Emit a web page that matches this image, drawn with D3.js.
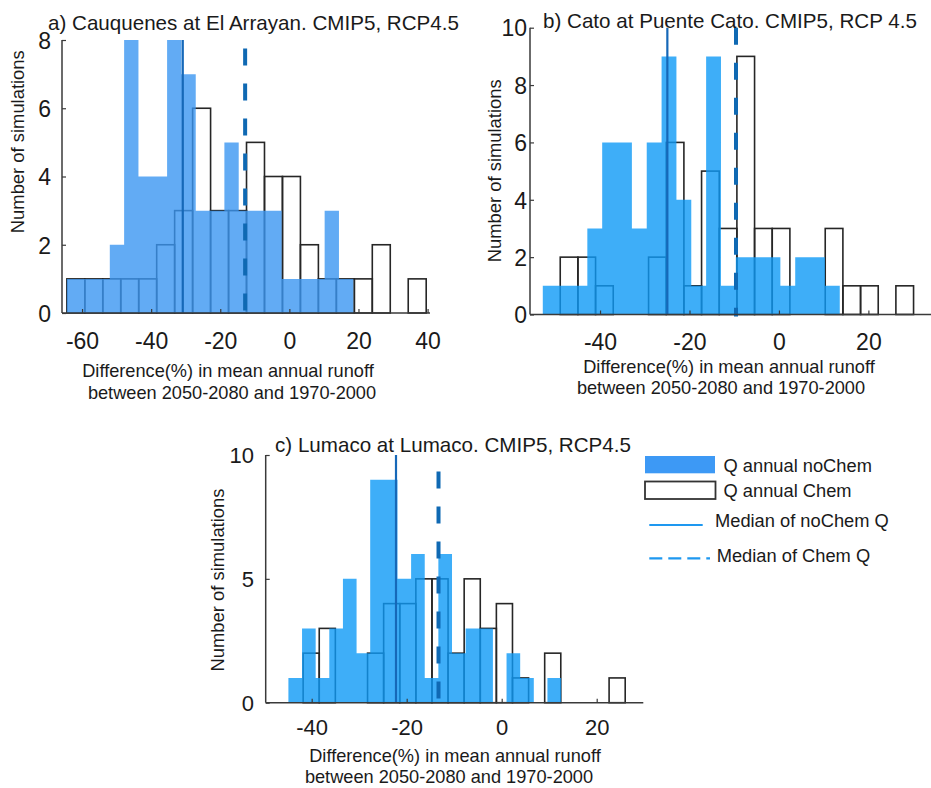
<!DOCTYPE html>
<html><head><meta charset="utf-8">
<script src="https://cdn.jsdelivr.net/npm/d3@7"></script>
<style>
body{margin:0;background:#fff}
svg{display:block}
text{font-family:"Liberation Sans",Arial,Helvetica,sans-serif;fill:#1a1a1a}
</style>
</head><body>
<svg id="chart" width="931" height="788"></svg>
<script>
// ---------------- DATA ----------------
const titles = [
  "a) Cauquenes at El Arrayan. CMIP5, RCP4.5",
  "b) Cato at Puente Cato. CMIP5, RCP 4.5",
  "c) Lumaco at Lumaco. CMIP5, RCP4.5"
];
const xLabelLines = ["Difference(%) in mean annual runoff", "between 2050-2080 and 1970-2000"];
const yLabel = "Number of simulations";
const legendLabels = ["Q annual noChem", "Q annual Chem", "Median of noChem Q", "Median of Chem Q"];

// tick labels
const xTicksA = [-60, -40, -20, 0, 20, 40];
const xTicksB = [-40, -20, 0, 20];
const xTicksC = [-40, -20, 0, 20];
const yTicksA = [0, 2, 4, 6, 8];
const yTicksB = [0, 2, 4, 6, 8, 10];
const yTicksC = [0, 5, 10];

// axis ranges (difference %, number of simulations)
const xDomainA = [-65.8, 40.7];
const xDomainB = [-55.66, 34.0];
const xDomainC = [-49.68, 29.81];
const yMaxA = 8, yMaxB = 10, yMaxC = 10;

// histogram bins: [first edge, bin width]
const chemBinA = [-64.4, 5.2];
const noChemBinA = [-64.4, 4.145];
const chemBinB = [-48.9, 3.95];
const noChemBinB = [-52.8, 3.32];
const chemBinC = [-41.8, 3.39];
const noChemBinC = [-44.9, 2.87];

// counts per bin (Q annual Chem, 43 simulations; Q annual noChem, 63 simulations)
const chemCountsA   = [1,1,1,1,1,2,3,6,3,3,5,4,4,2,1,1,1,2,0,1];
const noChemCountsA = [1,1,1,2,8,4,4,8,7,3,3,5,3,3,3,1,1,1,3,1];
const chemCountsB   = [2,2,1,0,0,2,6,1,5,3,9,3,3,0,0,3,1,1,0,1];
const noChemCountsB = [1,1,1,3,6,6,3,6,9,4,1,9,1,2,2,2,1,2,2,1];
const chemCountsC   = [2,3,0,0,2,4,4,5,5,2,5,3,4,1,0,2,0,0,0,1];
const noChemCountsC = [1,3,1,3,5,2,9,9,5,6,1,6,2,3,3,0,2,1,0,1];

// medians [noChem, Chem] and the top of the drawn Chem median line
const mediansA = [-30.85, -12.8];
const mediansB = [-24.95, -9.6];
const mediansC = [-22.25, -13.3];
const chemMedianTop = [7.75, 10, 9.33];

// ---------------- DRAWING ----------------
const svg = d3.select("#chart");
svg.append("rect").attr("width", 931).attr("height", 788).attr("fill", "#fff");

const EDGE = "#262626";
const AXIS = "#3a3a3a";
const MED_SOLID = "#1668b8";
const MED_DASH = "#0f69b3";
const fmt = d => String(d);   // plain hyphen-minus like the original

function drawPanel(cfg) {
  const x = d3.scaleLinear().domain(cfg.xDomain).range([cfg.left, cfg.right]);
  const y = d3.scaleLinear().domain([0, cfg.yMax]).range([cfg.bottom, cfg.top]);
  const g = svg.append("g");

  // Chem histogram (outline bars)
  const chemBins = cfg.chemCounts.map((c, i) => ({
    x0: cfg.chemBin[0] + i * cfg.chemBin[1],
    x1: cfg.chemBin[0] + (i + 1) * cfg.chemBin[1], c
  })).filter(d => d.c > 0);
  g.selectAll("rect.chem").data(chemBins).join("rect").attr("class", "chem")
    .attr("x", d => x(d.x0)).attr("width", d => x(d.x1) - x(d.x0))
    .attr("y", d => y(d.c)).attr("height", d => y(0) - y(d.c))
    .attr("fill", "none").attr("stroke", EDGE).attr("stroke-width", 1.6);

  // noChem histogram (filled, translucent) as one step area
  const pts = cfg.noChemCounts.map((c, i) => ({ e: cfg.noChemBin[0] + i * cfg.noChemBin[1], c }));
  pts.push({ e: cfg.noChemBin[0] + cfg.noChemCounts.length * cfg.noChemBin[1], c: cfg.noChemCounts[cfg.noChemCounts.length - 1] });
  const area = d3.area().x(d => x(d.e)).y0(y(0)).y1(d => y(d.c)).curve(d3.curveStepAfter);
  g.append("path").datum(pts).attr("d", area)
    .attr("fill", cfg.blue).attr("fill-opacity", 0.8).attr("stroke", "none");

  // medians
  g.append("line")
    .attr("x1", x(cfg.medians[0])).attr("x2", x(cfg.medians[0]))
    .attr("y1", y(cfg.yMax)).attr("y2", y(0))
    .attr("stroke", MED_SOLID).attr("stroke-width", 2.2);
  g.append("line")
    .attr("x1", x(cfg.medians[1])).attr("x2", x(cfg.medians[1]))
    .attr("y1", y(cfg.chemTop)).attr("y2", y(0) + 2)
    .attr("stroke", MED_DASH).attr("stroke-width", 4).attr("stroke-dasharray", "17,18");

  // axes
  const xAxis = d3.axisBottom(x).tickValues(cfg.xTicks).tickSize(-4).tickPadding(0).tickFormat(fmt);
  const gx = g.append("g").attr("transform", `translate(0,${cfg.bottom})`).call(xAxis);
  gx.select(".domain").attr("d", `M${cfg.left},0H${cfg.right}`).attr("stroke", AXIS).attr("stroke-width", 1.5);
  gx.selectAll(".tick line").attr("stroke", AXIS).attr("stroke-width", 1.2);
  gx.selectAll(".tick text").attr("font-size", cfg.tickFont).attr("fill", "#1a1a1a")
    .attr("font-family", "Liberation Sans, Arial, sans-serif")
    .attr("dy", null).attr("y", cfg.xTickBase - cfg.bottom);

  const yAxis = d3.axisLeft(y).tickValues(cfg.yTicks).tickSize(-4).tickPadding(0).tickFormat(fmt);
  const gy = g.append("g").attr("transform", `translate(${cfg.left},0)`).call(yAxis);
  gy.select(".domain").attr("d", `M0,${cfg.top}V${cfg.bottom}`).attr("stroke", AXIS).attr("stroke-width", 1.5);
  gy.selectAll(".tick line").attr("stroke", AXIS).attr("stroke-width", 1.2);
  gy.selectAll(".tick text").attr("font-size", cfg.tickFont).attr("fill", "#1a1a1a")
    .attr("font-family", "Liberation Sans, Arial, sans-serif")
    .attr("x", -(cfg.left - cfg.yTickRight)).attr("dy", "0.36em");

  // title
  g.append("text").attr("x", cfg.titleX).attr("y", cfg.titleY)
    .attr("font-size", 20.6).text(cfg.title);

  // x label (two lines)
  g.append("text").attr("x", cfg.xl1[0]).attr("y", cfg.xl1[1]).attr("text-anchor", "middle")
    .attr("font-size", 18.2).text(xLabelLines[0]);
  g.append("text").attr("x", cfg.xl2[0]).attr("y", cfg.xl2[1]).attr("text-anchor", "middle")
    .attr("font-size", 18.2).text(xLabelLines[1]);

  // y label
  g.append("text").attr("transform", `translate(${cfg.yl[0]},${cfg.yl[1]}) rotate(-90)`)
    .attr("text-anchor", "middle").attr("font-size", 18.4).text(yLabel);
}

drawPanel({
  title: titles[0], titleX: 48, titleY: 29.5,
  left: 62, right: 430, top: 40, bottom: 313,
  xDomain: xDomainA, yMax: yMaxA, xTicks: xTicksA, yTicks: yTicksA,
  chemBin: chemBinA, chemCounts: chemCountsA, noChemBin: noChemBinA, noChemCounts: noChemCountsA,
  medians: mediansA, chemTop: chemMedianTop[0], blue: "#3b96f1",
  tickFont: 23, xTickBase: 348.5, yTickRight: 51,
  xl1: [228, 376.5], xl2: [232, 398.5], yl: [24, 141.7]
});
drawPanel({
  title: titles[1], titleX: 543, titleY: 28.3,
  left: 530, right: 931, top: 27.7, bottom: 314.5,
  xDomain: xDomainB, yMax: yMaxB, xTicks: xTicksB, yTicks: yTicksB,
  chemBin: chemBinB, chemCounts: chemCountsB, noChemBin: noChemBinB, noChemCounts: noChemCountsB,
  medians: mediansB, chemTop: chemMedianTop[1], blue: "#0e9af6",
  tickFont: 23, xTickBase: 350, yTickRight: 527,
  xl1: [729, 373], xl2: [721, 393.5], yl: [501, 170.8]
});
drawPanel({
  title: titles[2], titleX: 275, titleY: 451.7,
  left: 265.7, right: 643.3, top: 455, bottom: 702.7,
  xDomain: xDomainC, yMax: yMaxC, xTicks: xTicksC, yTicks: yTicksC,
  chemBin: chemBinC, chemCounts: chemCountsC, noChemBin: noChemBinC, noChemCounts: noChemCountsC,
  medians: mediansC, chemTop: chemMedianTop[2], blue: "#0e9af6",
  tickFont: 22, xTickBase: 735, yTickRight: 254,
  xl1: [455, 762], xl2: [449, 782.5], yl: [224, 580]
});

// ---------------- LEGEND ----------------
const lg = svg.append("g");
lg.append("rect").attr("x", 645).attr("y", 456).attr("width", 70).attr("height", 17.3).attr("fill", "#3d99f5");
lg.append("rect").attr("x", 645).attr("y", 481.5).attr("width", 70.5).attr("height", 17.5)
  .attr("fill", "#fff").attr("stroke", "#333").attr("stroke-width", 1.8);
lg.append("line").attr("x1", 649.3).attr("x2", 702.7).attr("y1", 525).attr("y2", 525)
  .attr("stroke", "#1e98f0").attr("stroke-width", 2.2);
lg.append("line").attr("x1", 649.3).attr("x2", 710).attr("y1", 558.3).attr("y2", 558.3)
  .attr("stroke", "#1e98f0").attr("stroke-width", 2.2).attr("stroke-dasharray", "13,6");
const legPos = [[723.5, 472], [723.5, 497], [715, 527], [716.7, 561.5]];
legendLabels.forEach((t, i) => {
  lg.append("text").attr("x", legPos[i][0]).attr("y", legPos[i][1]).attr("font-size", 18.3).text(t);
});
</script>
</body></html>
